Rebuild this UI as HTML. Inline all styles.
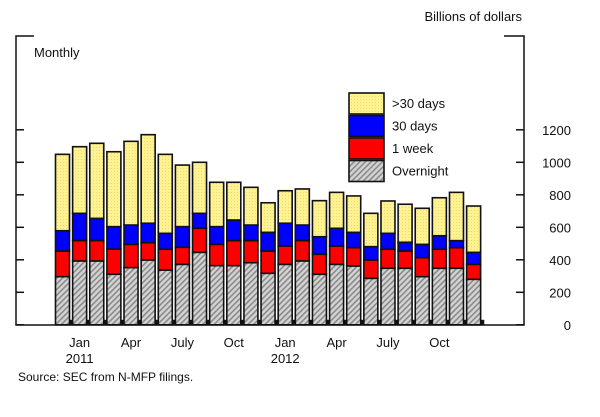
<!DOCTYPE html>
<html><head><meta charset="utf-8"><style>
body{margin:0;background:#fff;}
svg text{font-family:"Liberation Sans",sans-serif;fill:#111;}
</style></head><body>
<svg id="chart" width="600" height="412" viewBox="0 0 600 412" xmlns="http://www.w3.org/2000/svg">
<defs>
<pattern id="hatch" width="4" height="4" patternUnits="userSpaceOnUse" patternTransform="rotate(45)">
<rect width="4" height="4" fill="#d4d4d4"/><rect width="1.6" height="4" fill="#8a8a8a"/></pattern>
<pattern id="dots" width="3" height="3" patternUnits="userSpaceOnUse">
<rect width="3" height="3" fill="#fff291"/><rect width="1" height="1" fill="#f0d870"/></pattern>
</defs>
<text x="522" y="21" text-anchor="end" font-size="13">Billions of dollars</text>
<text x="34" y="57" font-size="13">Monthly</text>
<g id="frame" stroke="#111" stroke-width="1.5" fill="none">
<path d="M34 36 H16 V325 H524 V36 H504"/>
</g>
<g id="ticks"></g>
<g id="bars"></g>
<g id="xlabels"></g>
<g id="legend"></g>
<text x="18" y="381" font-size="12">Source: SEC from N-MFP filings.</text>
</svg>
<script>
const overnight=[296,393,393,311,352,399,337,372,446,364,364,382,317,372,393,311,372,362,286,348,348,296,348,348,280];
const oneWeek=[158,125,125,155,143,106,128,105,148,131,154,136,137,113,125,123,113,113,113,117,106,117,117,127,92];
const thirtyDays=[125,168,137,138,119,120,98,127,92,109,127,96,115,140,96,108,109,94,82,98,54,82,83,43,74];
const over30=[470,410,462,461,515,545,486,379,314,273,232,232,182,200,222,222,221,224,205,199,234,222,234,297,285];
const tickVals=[0,200,400,600,800,1000,1200];
const monthLabels=["Jan","Apr","July","Oct","Jan","Apr","July","Oct"];
const monthIdx=[1,4,7,10,13,16,19,22];
const yearLabels=["2011","2012"];
const yearIdx=[1,13];
const NS="http://www.w3.org/2000/svg";
const y0=324.8, k=0.1625, x0=55.5, pitch=17.13, bw=14;
const y=v=>y0-v*k;
const xc=i=>x0+i*pitch+bw/2;
function mk(tag,attrs,parent){const e=document.createElementNS(NS,tag);for(const a in attrs)e.setAttribute(a,attrs[a]);parent.appendChild(e);return e;}
const ticks=document.getElementById('ticks');
tickVals.forEach(v=>{
  const t1=mk('line',{x1:16,x2:24,y1:y(v),y2:y(v),stroke:'#111','stroke-width':1.5},ticks);
  
  
  const t2=mk('line',{x1:516,x2:524,y1:y(v),y2:y(v),stroke:'#111','stroke-width':1.5},ticks);
  
  
  const lb=mk('text',{x:571,y:y(v)+5,'text-anchor':'end','font-size':13},ticks);
  lb.textContent=v;
  
  
});
const bars=document.getElementById('bars');
const series=[[overnight,'url(#hatch)','overnight'],[oneWeek,'#ff0000','one-week'],[thirtyDays,'#0000ff','thirty-days'],[over30,'url(#dots)','over-30-days']];
for(let i=0;i<overnight.length;i++){
  let base=0;
  const bx=x0+i*pitch;
  series.forEach(s=>{
    const v=s[0][i];
    const r=mk('rect',{x:bx,y:y(base+v),width:bw,height:v*k,fill:s[1],stroke:'#111','stroke-width':1.6},bars);
    
    
    base+=v;
  });
  const f=mk('rect',{x:bx+bw-0.5,y:y0-5,width:pitch-bw+1,height:5,fill:'#111'},bars);
  
  
}
const xl=document.getElementById('xlabels');
monthLabels.forEach((m,j)=>{
  const t=mk('text',{x:xc(monthIdx[j]),y:347,'text-anchor':'middle','font-size':13},xl);
  t.textContent=m;
  
  
});
yearLabels.forEach((m,j)=>{
  const t=mk('text',{x:xc(yearIdx[j]),y:363,'text-anchor':'middle','font-size':13},xl);
  t.textContent=m;
  
  
});
const lg=document.getElementById('legend');
const legItems=[['>30 days','url(#dots)'],['30 days','#0000ff'],['1 week','#ff0000'],['Overnight','url(#hatch)']];
legItems.forEach((it,j)=>{
  const yy=93+j*22.5;
  const r=mk('rect',{x:349,y:yy,width:35,height:21,fill:it[1],stroke:'#111','stroke-width':1.6},lg);
  
  
  const t=mk('text',{x:392,y:yy+15,'font-size':13},lg);
  t.textContent=it[0];
  
  
});
</script>
</body></html>
